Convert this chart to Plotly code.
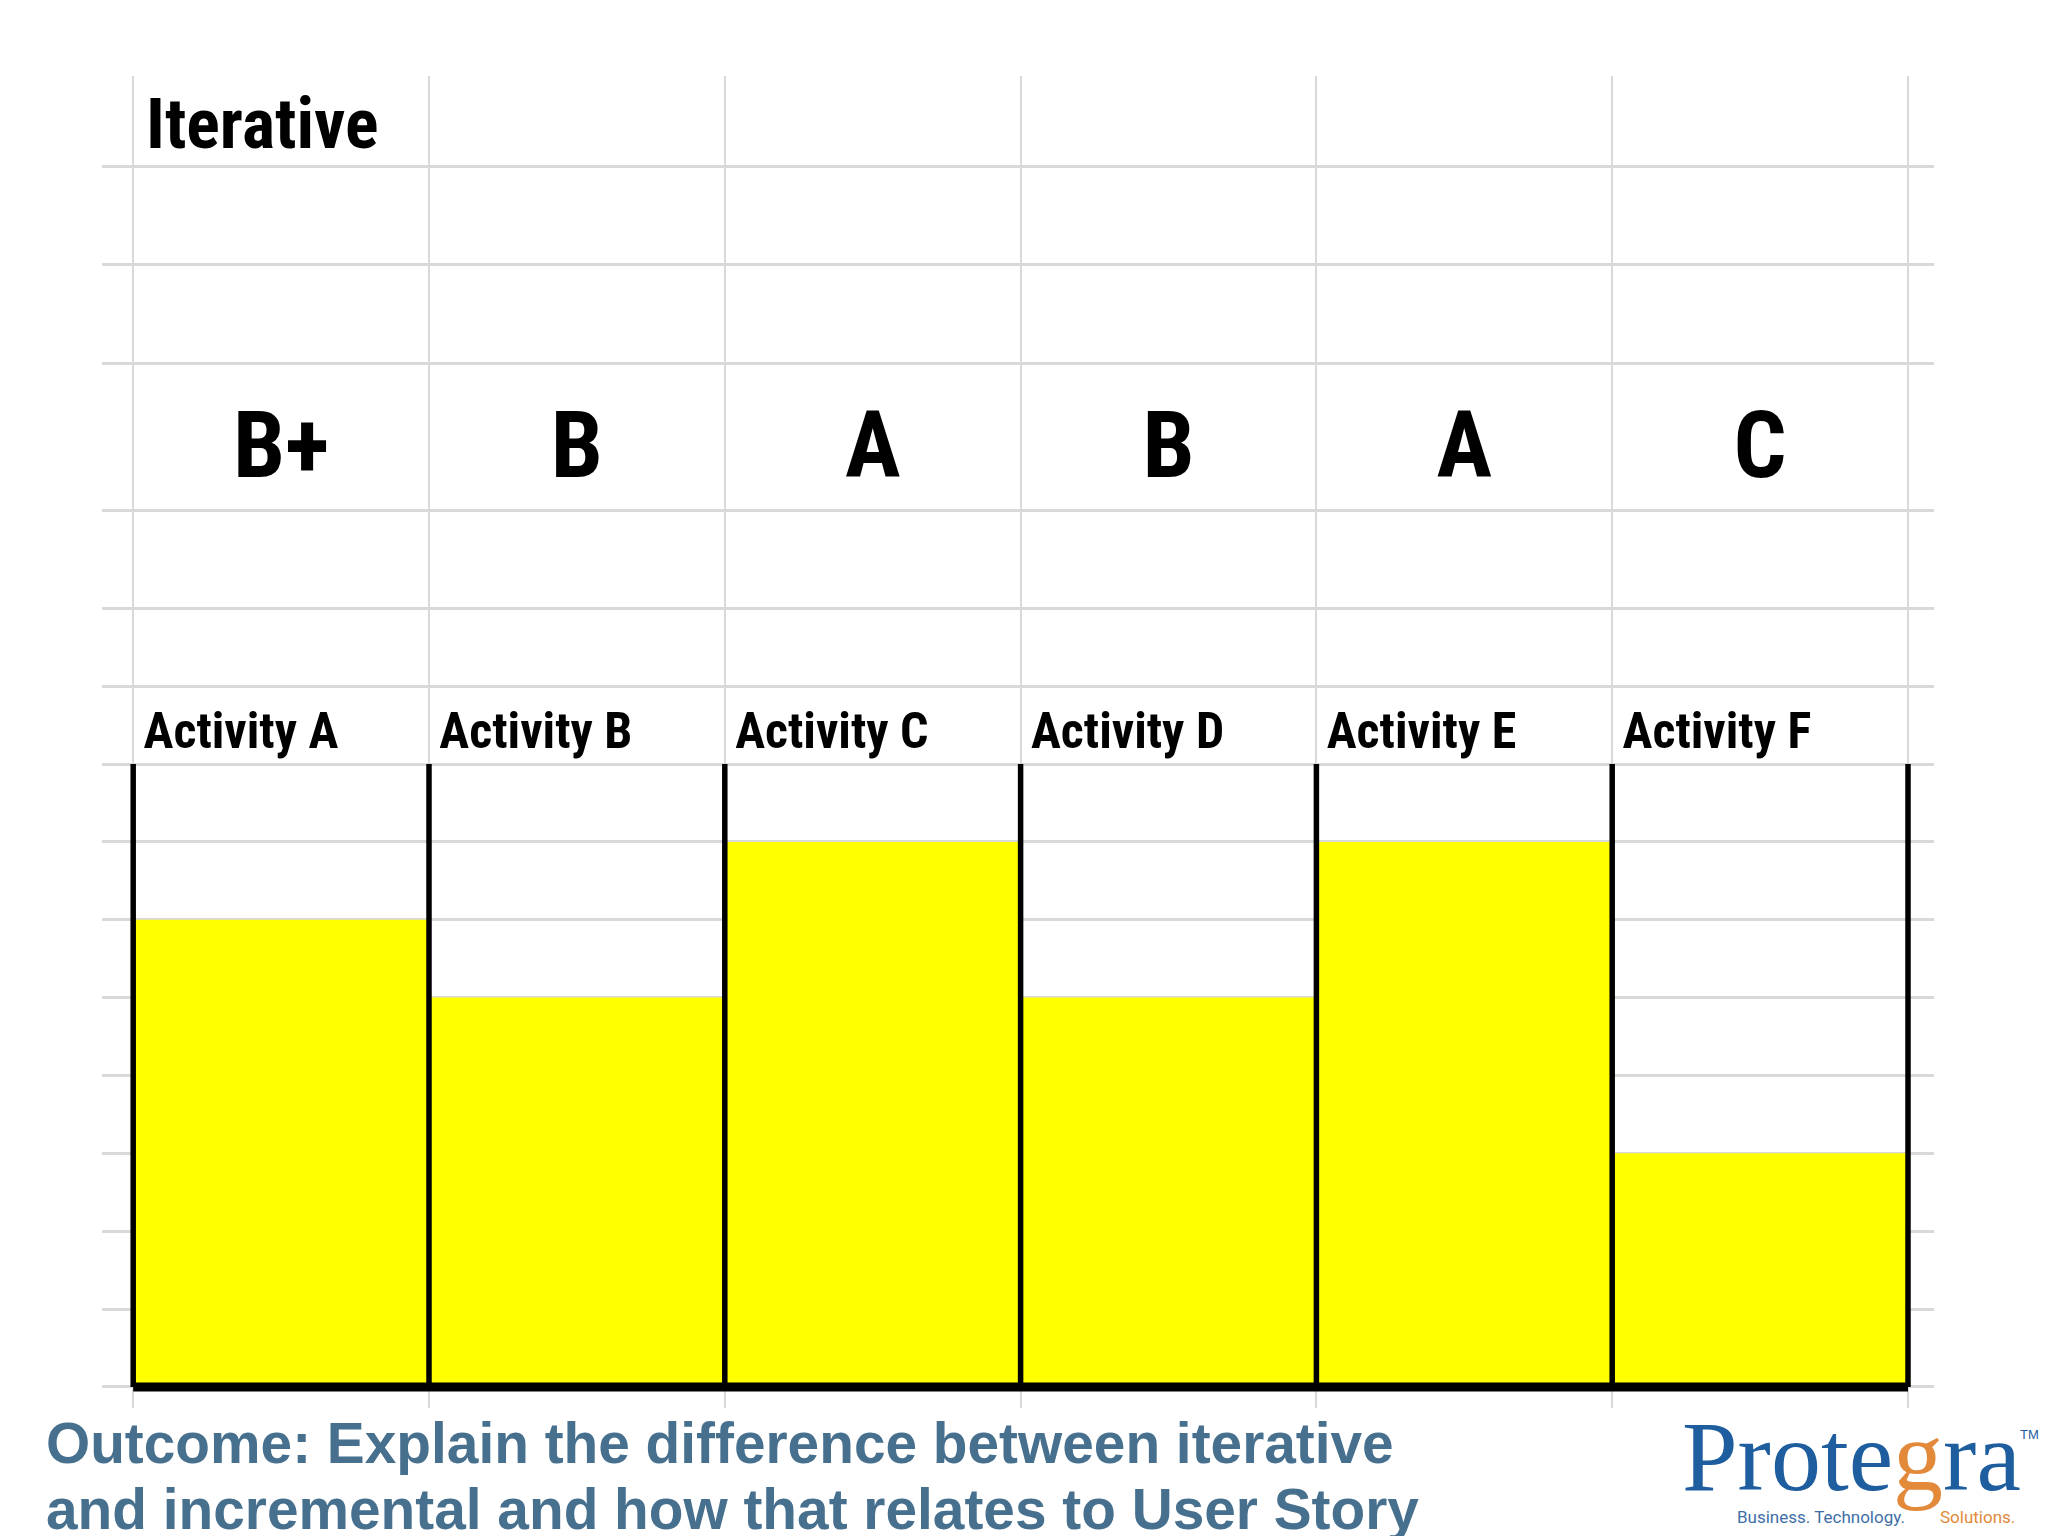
import numpy as np
import plotly.graph_objects as go

# ---------------- data ----------------
categories = ["Activity A", "Activity B", "Activity C", "Activity D", "Activity E", "Activity F"]
grades = ["B+", "B", "A", "B", "A", "C"]
scores = [6, 5, 7, 5, 7, 3]
max_score = 8
title_word = "Iterative"
outcome_lines = [
    "Outcome: Explain the difference between iterative",
    "and incremental and how that relates to User Story",
]

# ---------------- layout helpers ----------------
W, H = 2048, 1536
ML, MR, MT, MB = 102, 114, 76, 128
upper_rows = [9, 10, 11.26, 13.14, 14.41, 15.67]   # spreadsheet row lines above the bar box
grade_row_y = 11.98
label_row_y = 8.37
title_row_y = 16.22

NARROW = "Liberation Sans Narrow, Roboto Condensed, Roboto, DejaVu Sans Condensed, sans-serif"
GRID = "#D9D9D9"

n = len(categories)
idx = np.arange(n)
centers = idx + 0.5


def cond(s):
    return "<span style='font-stretch:condensed'>" + s + "</span>"


def px_to_paper(px, py):
    return (px - ML) / (W - ML - MR), (H - MB - py) / (H - MT - MB)


fig = go.Figure()

fig.add_trace(go.Bar(
    x=centers, y=scores, width=1,
    marker=dict(color="#FFFF00", line=dict(width=0)),
    hoverinfo="skip", showlegend=False,
))

fig.add_trace(go.Scatter(
    x=centers, y=[grade_row_y] * n, mode="text", text=[cond(g) for g in grades],
    textposition="middle center",
    textfont=dict(family=NARROW, size=93, color="#000000", weight="bold"),
    hoverinfo="skip", showlegend=False, cliponaxis=False,
))

fig.add_trace(go.Scatter(
    x=idx + 0.035, y=[label_row_y] * n, mode="text", text=[cond(c) for c in categories],
    textposition="middle right",
    textfont=dict(family=NARROW, size=50, color="#000000", weight="bold"),
    hoverinfo="skip", showlegend=False, cliponaxis=False,
))

shapes = []
for i in range(n + 1):
    shapes.append(dict(type="line", xref="x", yref="y", x0=i, x1=i, y0=0, y1=max_score,
                       line=dict(color="#000000", width=5.5), layer="above"))
shapes.append(dict(type="line", xref="x", yref="y", x0=0, x1=n, y0=0, y1=0,
                   line=dict(color="#000000", width=9), layer="above"))

annotations = [
    dict(x=0.035, y=title_row_y, xref="x", yref="y", text=cond(title_word), showarrow=False,
         xanchor="left", yanchor="middle",
         font=dict(family=NARROW, size=70, color="#000000", weight="bold")),
]

outcome_pos = [(44, 1443), (44, 1510)]
for line, (px, py) in zip(outcome_lines, outcome_pos):
    xp, yp = px_to_paper(px, py)
    annotations.append(dict(x=xp, y=yp, xref="paper", yref="paper", text=line, showarrow=False,
                            xanchor="left", yanchor="middle",
                            font=dict(family="Liberation Sans, Arial, sans-serif", size=56.8,
                                      color="#47708E", weight="bold")))

# logo
xp, yp = px_to_paper(1680, 1456)
annotations.append(dict(x=xp, y=yp, xref="paper", yref="paper",
                        text="Prote<span style='color:#E2893A'>g</span>ra", showarrow=False,
                        xanchor="left", yanchor="middle",
                        font=dict(family="Liberation Serif, serif", size=100, color="#1E5E9E")))
xp, yp = px_to_paper(2018, 1434)
annotations.append(dict(x=xp, y=yp, xref="paper", yref="paper", text="TM", showarrow=False,
                        xanchor="left", yanchor="middle",
                        font=dict(family="Liberation Sans, sans-serif", size=13, color="#1E5E9E")))
xp, yp = px_to_paper(1735, 1517)
annotations.append(dict(x=xp, y=yp, xref="paper", yref="paper", text="Business. Technology.",
                        showarrow=False, xanchor="left", yanchor="middle",
                        font=dict(family="Roboto, sans-serif", size=17, color="#3E6FA6")))
xp, yp = px_to_paper(1938, 1517)
annotations.append(dict(x=xp, y=yp, xref="paper", yref="paper", text="Solutions.",
                        showarrow=False, xanchor="left", yanchor="middle",
                        font=dict(family="Roboto, sans-serif", size=17, color="#E2893A")))

unit_px = 77.86
col_px = 295.8
ymin = -(1408 - 1386.9) / unit_px
ymax = (1386.9 - MT) / unit_px
xmin = -(133.2 - ML) / col_px
xmax = n + (W - MR - 1908) / col_px

fig.update_layout(
    width=W, height=H,
    margin=dict(l=ML, r=MR, t=MT, b=MB, pad=0),
    paper_bgcolor="#FFFFFF", plot_bgcolor="#FFFFFF",
    shapes=shapes, annotations=annotations,
    showlegend=False,
    xaxis=dict(range=[xmin, xmax], tickvals=list(range(n + 1)), showticklabels=False,
               showgrid=True, gridcolor=GRID, gridwidth=2, zeroline=False, showline=False,
               ticks="", fixedrange=True),
    yaxis=dict(range=[ymin, ymax], tickvals=list(range(max_score + 1)) + upper_rows,
               showticklabels=False, showgrid=True, gridcolor=GRID, gridwidth=3,
               zeroline=False, showline=False, ticks="", fixedrange=True),
)

fig.write_html("out.html", post_script="document.body.style.margin='0';",
               config={"displayModeBar": False})
